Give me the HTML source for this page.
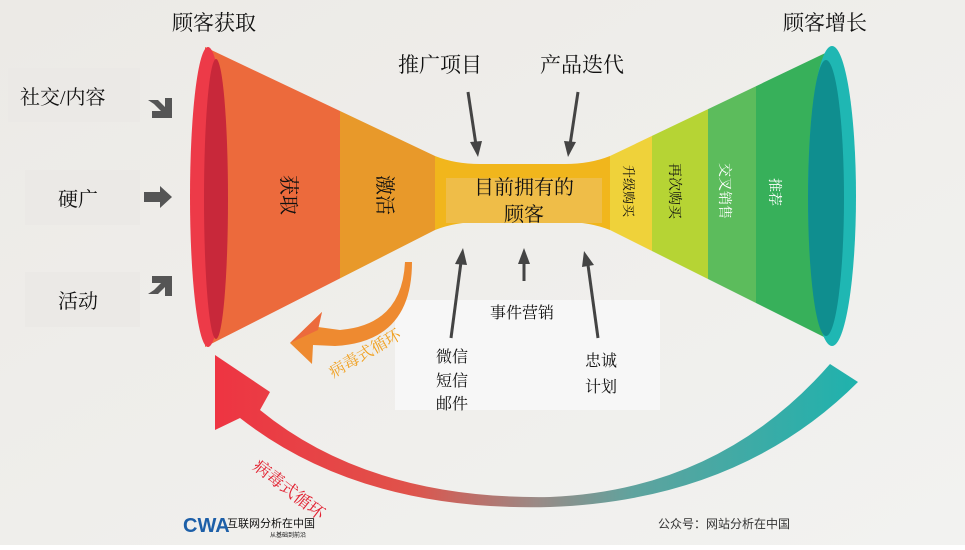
<!DOCTYPE html>
<html><head><meta charset="utf-8"><style>
body{margin:0;background:#fff}
svg text{font-family:"Liberation Serif","Noto Serif CJK SC",serif;fill:#111}
</style></head><body>
<svg width="965" height="545" viewBox="0 0 965 545" xmlns="http://www.w3.org/2000/svg">
<defs>
<linearGradient id="bg" x1="0" y1="0" x2="1" y2="1"><stop offset="0" stop-color="#eceae6"/><stop offset="1" stop-color="#f2f2f0"/></linearGradient>
<clipPath id="fun"><path d="M205,47 L435,156 Q455,164 480,164 L565,164 Q590,164 610,156 L840,46 L840,345 L610,230 Q590,222 565,222 L480,222 Q455,222 435,230 L205,347 Z"/></clipPath>
<linearGradient id="big" x1="1" y1="0" x2="0" y2="0"><stop offset="0" stop-color="#1fb2ad"/><stop offset="0.35" stop-color="#5fa39e"/><stop offset="0.5" stop-color="#9a8a86"/><stop offset="0.7" stop-color="#e0524a"/><stop offset="1" stop-color="#ee3442"/></linearGradient>
</defs>
<rect width="965" height="545" fill="url(#bg)"/>
<rect x="8" y="68" width="132" height="54" fill="#ebe9e6"/>
<rect x="25" y="170" width="115" height="55" fill="#ebe9e6"/>
<rect x="25" y="272" width="115" height="55" fill="#ebe9e6"/>
<rect x="395" y="300" width="265" height="110" fill="#f7f7f7"/>

<g clip-path="url(#fun)">
<rect x="200" y="40" width="140" height="320" fill="#ec6a3c"/>
<rect x="340" y="40" width="95" height="320" fill="#e8992a"/>
<rect x="435" y="40" width="175" height="320" fill="#f1b61c"/>
<rect x="610" y="40" width="42" height="320" fill="#efd23a"/>
<rect x="652" y="40" width="56" height="320" fill="#b6d434"/>
<rect x="708" y="40" width="48" height="320" fill="#5cbc5c"/>
<rect x="756" y="40" width="70" height="320" fill="#37b05a"/>
</g>
<rect x="446" y="178" width="156" height="45" fill="#efbd48"/>
<ellipse cx="208" cy="197" rx="18" ry="150" fill="#ed3a48"/>
<ellipse cx="216" cy="199" rx="12" ry="140" fill="#c8283a"/>
<ellipse cx="832" cy="196" rx="24" ry="150" fill="#1fb7b3"/>
<ellipse cx="826" cy="198" rx="18" ry="138" fill="#0f8e8f"/>

<g fill="#555">
<path d="M148,100 L158,100 L165,107 L165,98 L172,98 L172,118 L152,118 L152,111 L161,111 L154,104 Z"/>
<path d="M144,192 L160,192 L160,186 L172,197 L160,208 L160,202 L144,202 Z"/>
<path d="M148,294 L158,294 L165,287 L165,296 L172,296 L172,276 L152,276 L152,283 L161,283 L154,290 Z"/>
</g>

<text x="172" y="30" font-size="21">顾客获取</text>
<text x="783" y="30" font-size="21">顾客增长</text>
<text x="20" y="104" font-size="20">社交/内容</text>
<text x="58" y="206" font-size="20">硬广</text>
<text x="58" y="308" font-size="20">活动</text>
<text x="398" y="72" font-size="21">推广项目</text>
<text x="540" y="72" font-size="21">产品迭代</text>

<g stroke="#444" stroke-width="3" fill="#444">
<line x1="468" y1="92" x2="476" y2="145"/><path d="M470,142 L478,157 L482,141 Z" stroke="none"/>
<line x1="578" y1="92" x2="570" y2="145"/><path d="M564,141 L568,157 L576,142 Z" stroke="none"/>
<line x1="451" y1="338" x2="461" y2="262"/><path d="M455,264 L463,248 L467,265 Z" stroke="none"/>
<line x1="524" y1="281" x2="524" y2="262"/><path d="M518,264 L524,248 L530,264 Z" stroke="none"/>
<line x1="598" y1="338" x2="588" y2="265"/><path d="M582,267 L584,251 L594,265 Z" stroke="none"/>
</g>

<text x="524" y="194" font-size="20" text-anchor="middle">目前拥有的</text>
<text x="524" y="221" font-size="20" text-anchor="middle">顾客</text>
<text x="490" y="318" font-size="16">事件营销</text>
<text x="436" y="362" font-size="16">微信</text>
<text x="436" y="386" font-size="16">短信</text>
<text x="436" y="409" font-size="16">邮件</text>
<text x="585" y="366" font-size="16">忠诚</text>
<text x="585" y="392" font-size="16">计划</text>

<text transform="translate(282,175) rotate(90)" font-size="20">获取</text>
<text transform="translate(378,175) rotate(90)" font-size="20">激活</text>
<text transform="translate(624,165) rotate(90)" font-size="13">升级购买</text>
<text transform="translate(670,163) rotate(90)" font-size="14">再次购买</text>
<text transform="translate(720,163) rotate(90)" font-size="14" style="fill:#fff">交叉销售</text>
<text transform="translate(770,178) rotate(90)" font-size="14" style="fill:#fff">推荐</text>

<path d="M405,262 Q402,325 340,330 L318,327 L322,312 L290,343 L312,364 L313,345 L335,346 Q412,342 412,262 Z" fill="#ee8a30"/>
<path d="M290,343 L322,312 L318,330 Z" fill="#ec6a3c"/>
<text transform="translate(333,378) rotate(-30)" font-size="16" style="fill:#f0a020">病毒式循环</text>

<path d="M830,364 Q720,490 550,497 Q370,500 260,410 L270,392 L215,355 L215,430 L240,418 Q360,512 550,507 Q740,500 858,382 Z" fill="url(#big)"/>
<text transform="translate(252,468) rotate(38)" font-size="17" style="fill:#e22030">病毒式循环</text>

<text x="183" y="532" font-size="20" font-weight="bold" style="fill:#1d5fa8;font-family:'Liberation Sans',sans-serif">CWA</text>
<text x="227" y="527" font-size="11" style="font-family:'Liberation Sans','Noto Sans CJK SC',sans-serif">互联网分析在中国</text>
<text x="270" y="537" font-size="6" style="font-family:'Liberation Sans','Noto Sans CJK SC',sans-serif">从基础到前沿</text>
<text x="658" y="528" font-size="12" style="fill:#333;font-family:'Liberation Sans','Noto Sans CJK SC',sans-serif">公众号：网站分析在中国</text>
</svg>
</body></html>
